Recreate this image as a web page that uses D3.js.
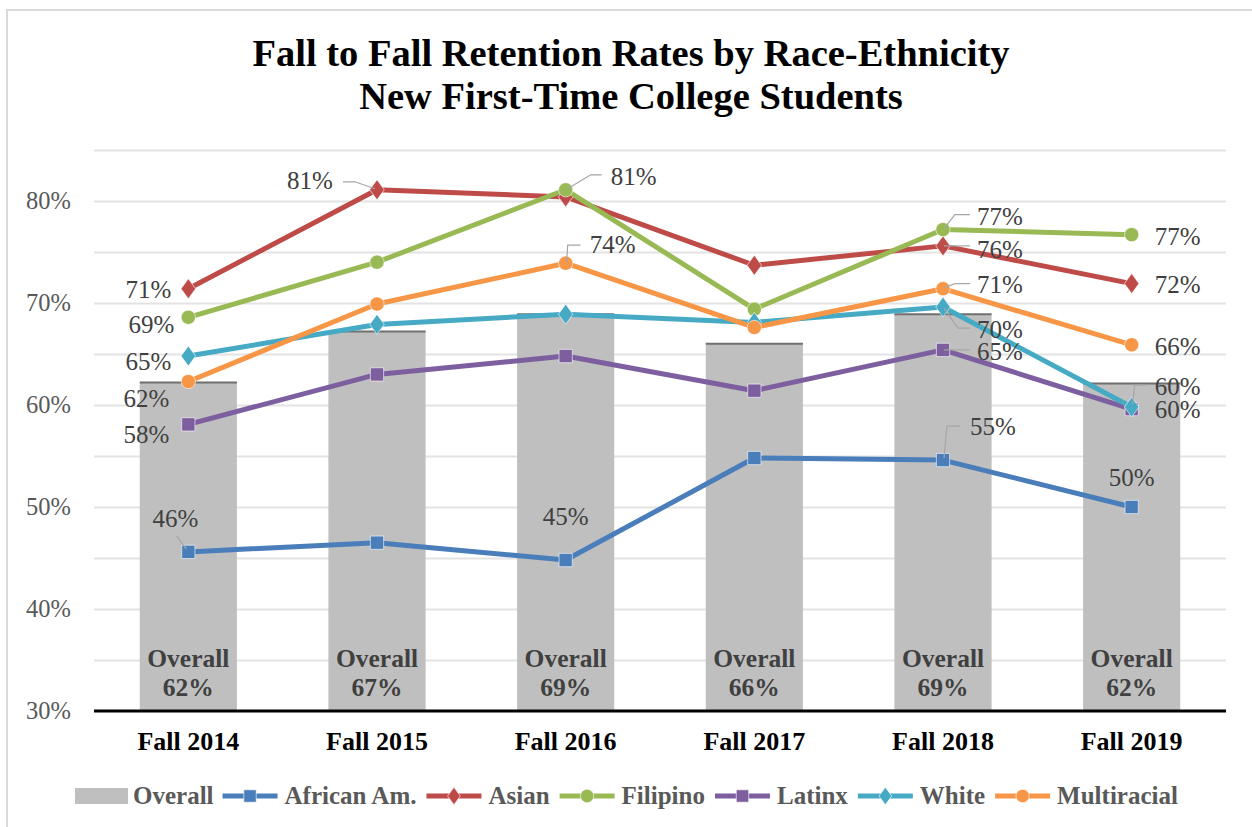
<!DOCTYPE html>
<meta charset="utf-8">
<html lang="en">
<head>
    <script src="https://d3js.org/d3.v7.min.js"></script>
    <style>
        body { margin: 0; background: #fff; }
        svg { display: block; font-family: "Liberation Serif", serif; }
    </style>
</head>
<body>
    <svg></svg>
</body>
</html>
<script>
    let width = 1252, height = 827;

    // chart values
    const years = ["Fall 2014", "Fall 2015", "Fall 2016", "Fall 2017", "Fall 2018", "Fall 2019"];
    const overall = [0.622, 0.672, 0.689, 0.660, 0.689, 0.621];
    const africanAm = [0.456, 0.465, 0.448, 0.548, 0.546, 0.500];
    const asian = [0.714, 0.811, 0.804, 0.737, 0.756, 0.719];
    const filipino = [0.686, 0.740, 0.811, 0.694, 0.772, 0.767];
    const latinx = [0.581, 0.630, 0.648, 0.614, 0.654, 0.596];
    const white = [0.648, 0.679, 0.689, 0.681, 0.696, 0.598];
    const multiracial = [0.623, 0.699, 0.739, 0.676, 0.714, 0.659];
    const yTicks = [0.3, 0.4, 0.5, 0.6, 0.7, 0.8];

    const series = [
        { name: "African Am.", values: africanAm, color: "#4a7ebb", symbol: "square" },
        { name: "Asian", values: asian, color: "#be4b48", symbol: "diamond" },
        { name: "Filipino", values: filipino, color: "#98b954", symbol: "circle" },
        { name: "Latinx", values: latinx, color: "#7d5fa0", symbol: "square" },
        { name: "White", values: white, color: "#46aac5", symbol: "diamond" },
        { name: "Multiracial", values: multiracial, color: "#f79646", symbol: "circle" }
    ];

    // which points get a label, and where (offset of the text from the point, optional leader)
    const labelPlacement = {
        "African Am.": [
            { i: 0, dx: -13, dy: -33, lead: [[-12, -16], [-2, -3]] },
            { i: 2, dx: 0, dy: -43 },
            { i: 4, dx: 50, dy: -33, lead: [[1, -2], [4, -34], [17, -34]] },
            { i: 5, dx: 0, dy: -29 }
        ],
        "Asian": [
            { i: 0, dx: -40, dy: 1 },
            { i: 1, dx: -67, dy: -9, lead: [[-34, -8], [-22, -8], [-2, -1]] },
            { i: 4, dx: 57, dy: 4, lead: [[1, 0], [27, 0]] },
            { i: 5, dx: 46, dy: 1 }
        ],
        "Filipino": [
            { i: 0, dx: -37, dy: 8 },
            { i: 2, dx: 68, dy: -13, lead: [[2, -1], [25, -15], [36, -15]] },
            { i: 4, dx: 57, dy: -13, lead: [[1, -1], [12, -15], [27, -15]] },
            { i: 5, dx: 46, dy: 2 }
        ],
        "Latinx": [
            { i: 0, dx: -42, dy: 11 },
            { i: 4, dx: 57, dy: 2, lead: [[1, 0], [27, 0]] },
            { i: 5, dx: 46, dy: 1 }
        ],
        "White": [
            { i: 0, dx: -40, dy: 6 },
            { i: 4, dx: 57, dy: 23, lead: [[1, 1], [15, 21], [27, 21]] },
            { i: 5, dx: 46, dy: -20, lead: [[1, -3], [3, -22], [14, -22]] }
        ],
        "Multiracial": [
            { i: 0, dx: -42, dy: 17 },
            { i: 2, dx: 47, dy: -18, lead: [[1, -1], [2, -18], [15, -18]] },
            { i: 4, dx: 57, dy: -4, lead: [[1, -1], [12, -5], [27, -5]] },
            { i: 5, dx: 46, dy: 2 }
        ]
    };

    let svg = d3.select("svg").attr("width", width).attr("height", height);

    // outer chart frame
    svg.append("rect")
        .attr("x", 7).attr("y", 10)
        .attr("width", width + 10).attr("height", height + 10)
        .attr("fill", "#fff")
        .attr("stroke", "#d9d9d9")
        .attr("stroke-width", 2);

    let plot = { left: 94, right: 1226, top: 150, bottom: 711 };

    let x = d3.scaleBand().domain(years).range([plot.left, plot.right]).padding(0);
    let y = d3.scaleLinear().domain([0.30, 0.85]).range([plot.bottom, plot.top]);
    let cx = (i) => x(years[i]) + x.bandwidth() / 2;
    let barW = x.bandwidth() * 0.515;

    // title
    svg.append("text")
        .attr("x", 631).attr("y", 66)
        .attr("text-anchor", "middle")
        .style("font-size", "38.5px").style("font-weight", "700")
        .text("Fall to Fall Retention Rates by Race-Ethnicity");
    svg.append("text")
        .attr("x", 631).attr("y", 109)
        .attr("text-anchor", "middle")
        .style("font-size", "38.5px").style("font-weight", "700")
        .text("New First-Time College Students");

    // gridlines every 5%
    svg.append("g")
        .selectAll("line")
        .data(d3.range(0.35, 0.851, 0.05))
        .enter()
        .append("line")
        .attr("x1", plot.left).attr("x2", plot.right)
        .attr("y1", (d) => Math.round(y(d)) + 0.5)
        .attr("y2", (d) => Math.round(y(d)) + 0.5)
        .attr("stroke", "#e3e3e3")
        .attr("stroke-width", 2);

    // y axis labels
    svg.append("g")
        .selectAll("text")
        .data(yTicks)
        .enter()
        .append("text")
        .attr("x", 71)
        .attr("y", (d) => y(d) + 8)
        .attr("text-anchor", "end")
        .style("font-size", "24.5px")
        .style("fill", "#595959")
        .text((d) => d3.format(".0%")(d));

    // overall bars
    let bars = svg.append("g").attr("id", "bars");
    bars.selectAll("rect")
        .data(overall)
        .enter()
        .append("rect")
        .attr("x", (d, i) => cx(i) - barW / 2)
        .attr("y", (d) => y(d))
        .attr("width", barW)
        .attr("height", (d) => y(0.30) - y(d))
        .attr("fill", "#bfbfbf");
    bars.selectAll("line")
        .data(overall)
        .enter()
        .append("line")
        .attr("x1", (d, i) => cx(i) - barW / 2)
        .attr("x2", (d, i) => cx(i) + barW / 2)
        .attr("y1", (d) => y(d))
        .attr("y2", (d) => y(d))
        .attr("stroke", "#6f6f6f")
        .attr("stroke-width", 2);

    let barLabels = bars.selectAll("g.bl")
        .data(overall)
        .enter()
        .append("g")
        .attr("class", "bl")
        .style("font-size", "25.5px")
        .style("font-weight", "700")
        .style("fill", "#404040")
        .attr("text-anchor", "middle");
    barLabels.append("text")
        .attr("x", (d, i) => cx(i)).attr("y", 667)
        .text("Overall");
    barLabels.append("text")
        .attr("x", (d, i) => cx(i)).attr("y", 696)
        .text((d) => d3.format(".0%")(d));

    // x axis line and category labels
    svg.append("line")
        .attr("x1", plot.left).attr("x2", plot.right)
        .attr("y1", plot.bottom).attr("y2", plot.bottom)
        .attr("stroke", "#000")
        .attr("stroke-width", 3);
    svg.append("g")
        .selectAll("text")
        .data(years)
        .enter()
        .append("text")
        .attr("x", (d, i) => cx(i))
        .attr("y", 750)
        .attr("text-anchor", "middle")
        .style("font-size", "26px")
        .style("font-weight", "700")
        .text((d) => d);

    function symbolPath(kind, size) {
        if (kind == "square") return d3.symbol().type(d3.symbolSquare).size(size * 1.1)();
        if (kind == "diamond") return "M0," + (-size / 16) + "L" + (size / 22) + ",0L0," + (size / 16) + "L" + (-size / 22) + ",0Z";
        return d3.symbol().type(d3.symbolCircle).size(size)();
    }

    // lines and markers
    let line = d3.line().x((d, i) => cx(i)).y((d) => y(d));
    series.forEach((s) => {
        let g = svg.append("g").attr("class", "series");
        g.append("path")
            .attr("d", line(s.values))
            .attr("fill", "none")
            .attr("stroke", s.color)
            .attr("stroke-width", 5)
            .attr("stroke-linejoin", "round");
        g.selectAll("path.mk")
            .data(s.values)
            .enter()
            .append("path")
            .attr("class", "mk")
            .attr("transform", (d, i) => `translate(${cx(i)},${y(d)})`)
            .attr("d", symbolPath(s.symbol, 160))
            .attr("fill", s.color)
            .attr("stroke", "#fff")
            .attr("stroke-opacity", 0.6)
            .attr("stroke-width", 1);
    });

    // data labels
    let labels = svg.append("g").attr("id", "labels");
    series.forEach((s) => {
        labelPlacement[s.name].forEach((p) => {
            let px = cx(p.i), py = y(s.values[p.i]);
            if (p.lead) {
                labels.append("path")
                    .attr("d", "M" + p.lead.map((q) => (px + q[0]) + "," + (py + q[1])).join("L"))
                    .attr("fill", "none")
                    .attr("stroke", "#a6a6a6")
                    .attr("stroke-width", 1.2);
            }
            labels.append("text")
                .attr("x", px + p.dx)
                .attr("y", py + p.dy + 8)
                .attr("text-anchor", "middle")
                .style("font-size", "25px")
                .style("fill", "#404040")
                .text(d3.format(".0%")(s.values[p.i]));
        });
    });

    // legend
    let legend = svg.append("g").attr("id", "legend")
        .style("font-size", "25px")
        .style("font-weight", "700")
        .style("fill", "#595959");
    let lx = 75, ly = 796;
    legend.append("rect")
        .attr("x", lx).attr("y", ly - 8)
        .attr("width", 53).attr("height", 16)
        .attr("fill", "#bfbfbf");
    let t = legend.append("text").attr("x", lx + 58).attr("y", ly + 8).text("Overall");
    lx = lx + 58 + t.node().getComputedTextLength() + 9;
    series.forEach((s) => {
        legend.append("line")
            .attr("x1", lx).attr("x2", lx + 55)
            .attr("y1", ly).attr("y2", ly)
            .attr("stroke", s.color)
            .attr("stroke-width", 5);
        legend.append("path")
            .attr("transform", `translate(${lx + 27.5},${ly})`)
            .attr("d", symbolPath(s.symbol, 140))
            .attr("fill", s.color)
            .attr("stroke", "#fff")
            .attr("stroke-opacity", 0.6);
        let tt = legend.append("text").attr("x", lx + 62).attr("y", ly + 8).text(s.name);
        lx = lx + 62 + tt.node().getComputedTextLength() + 10;
    });
</script>
